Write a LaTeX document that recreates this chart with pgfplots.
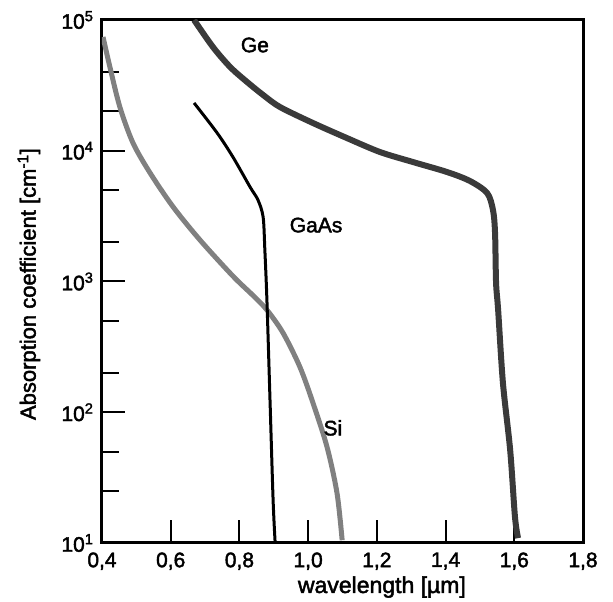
\documentclass[border=0pt]{standalone}
\usepackage{fontspec}
\setmainfont{Liberation Sans}
\newfontfamily\labfont{Liberation Sans}[FakeBold=2]
\usepackage{pgfplots}
\pgfplotsset{compat=1.18}
\newcommand\ff{\labfont\fontsize{21}{25}\selectfont}
\newcommand\fl{\labfont\fontsize{22}{26}\selectfont}
\newcommand\fx{\labfont\fontsize{23}{27}\selectfont}
\definecolor{gecol}{HTML}{3A3A3A}
\definecolor{sicol}{HTML}{808080}
\begin{document}
\begin{tikzpicture}
\begin{axis}[
  at={(0,0)}, anchor=south west,
  scale only axis, width=481pt, height=523pt,
  xmin=0.4, xmax=1.8, ymode=log, ymin=10, ymax=1e5,
  xtick={0.4,0.6,0.8,1.0,1.2,1.4,1.6,1.8},
  xticklabels={{0,4},{0,6},{0,8},{1,0},{1,2},{1,4},{1,6},{1,8}},
  ytick={10,100,1000,10000,100000},
  yticklabels={10\textsuperscript{1},10\textsuperscript{2},10\textsuperscript{3},10\textsuperscript{4},10\textsuperscript{5}},
  minor ytick={25,50,200,500,2000,5000,20000,40000},
  xtick pos=bottom, ytick pos=left,
  tick align=inside,
  major tick length=23pt, minor tick length=17pt,
  every tick/.style={black, line width=2pt},
  axis line style={line width=3pt},
  ticklabel style={font=\ff},
  yticklabel style={xshift=-5pt},
  xticklabel style={yshift=-6pt},
  xlabel={wavelength [\textmu m]},
  ylabel={Absorption coefficient [cm\textsuperscript{-1}]},
  xlabel style={font=\fx, at={(axis description cs:0.582,-0.0956)}, anchor=base},
  ylabel style={font=\fl, at={(axis description cs:-0.152,0.495)}, anchor=center},
]
% Si
\addplot[sicol, line width=5pt, smooth, tension=0.5] coordinates {
(0.403,74100) (0.423,43700) (0.452,21600) (0.490,11500) (0.540,6760)
(0.607,3720) (0.685,2080) (0.781,1100) (0.840,780) (0.880,606) (0.927,404)
(0.976,222) (1.014,118) (1.055,54.2) (1.084,24.1) (1.099,10.5)
};
% GaAs
\addplot[black, line width=3pt, smooth, tension=0.5] coordinates {
(0.668,23200) (0.735,13700) (0.781,8960) (0.831,5280) (0.854,4200)
(0.869,3110) (0.874,1740) (0.880,722) (0.889,124) (0.898,21.3) (0.904,10)
};
% Ge
\addplot[gecol, line width=6pt, smooth, tension=0.5] coordinates {
(0.668,100000) (0.723,62100) (0.773,43700) (0.822,33600) (0.869,26700)
(0.918,21600) (1.014,16300) (1.113,12500) (1.209,9780) (1.305,8200)
(1.404,6880) (1.471,5870) (1.521,4750) (1.538,3520) (1.544,2350)
(1.547,975) (1.553,606) (1.567,167) (1.588,51.4) (1.602,15.8) (1.611,10.9)
};
\node[font=\ff] at (axis cs:0.845,64400) {Ge};
\node[font=\ff] at (axis cs:1.023,2700) {GaAs};
\node[font=\ff] at (axis cs:1.072,75.9) {Si};
\end{axis}
\pgfresetboundingbox
\path[use as bounding box] (-102pt,-59pt) rectangle (511pt,543pt);
\end{tikzpicture}
\end{document}
